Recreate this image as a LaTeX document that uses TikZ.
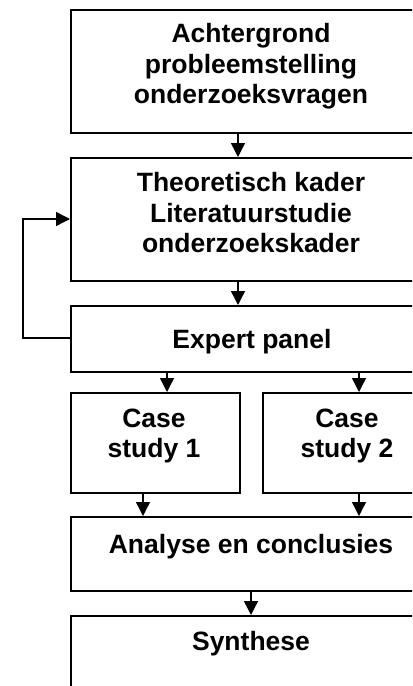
\documentclass[tikz,border=0pt]{standalone}
\usepackage{fontspec}
\setmainfont{Liberation Sans}
\usetikzlibrary{arrows.meta}
\tikzset{
  box/.style={draw=black, line width=2.3bp, rectangle, inner sep=0pt, anchor=north west},
  lbl/.style={font=\fontsize{26.5bp}{30.5bp}\selectfont\bfseries, align=center, inner sep=0pt},
  arr/.style={draw=black, line width=1.4bp, -{Triangle[width=14bp,length=14bp]}},
}
\begin{document}
\begin{tikzpicture}[x=1bp,y=-1bp]
\useasboundingbox (0,0) rectangle (412,686);
\clip (0,0) rectangle (412,686);
% boxes
\node[box, minimum width=362bp, minimum height=123bp] (b1) at (70,9) {};
\node[box, minimum width=362bp, minimum height=123bp] (b2) at (70,157) {};
\node[box, minimum width=362bp, minimum height=66bp] (b3) at (70,305) {};
\node[box, minimum width=169bp, minimum height=100bp] (c1) at (70,392) {};
\node[box, minimum width=170bp, minimum height=100bp] (c2) at (262,392) {};
\node[box, minimum width=362bp, minimum height=74bp] (b4) at (70,516) {};
\node[box, minimum width=362bp, minimum height=100bp] (b5) at (70,615) {};
% texts
\node[lbl] (t1) at (251,66.5) {Achtergrond\\probleemstelling\\onderzoeksvragen};
\node[lbl] (t2) at (251,213) {Theoretisch kader\\Literatuurstudie\\onderzoekskader};
\node[lbl, anchor=base] (t3) at (252,348) {Expert panel};
\node[lbl] (t4) at (154,436) {Case\\study 1};
\node[lbl] (t5) at (347,436) {Case\\study 2};
\node[lbl, anchor=base] (t6) at (251,553) {Analyse en conclusies};
\node[lbl, anchor=base] (t7) at (251,650) {Synthese};
% connectors
\coordinate (f1) at (23,338);
\coordinate (f2) at (23,219);
\draw[arr] (b1.south west -| 238,0) -- (b2.north west -| 238,0);
\draw[arr] (b2.south west -| 238,0) -- (b3.north west -| 238,0);
\draw[arr] (b3.south west -| 167,0) -- (c1.north west -| 167,0);
\draw[arr] (b3.south west -| 359,0) -- (c2.north west -| 359,0);
\draw[arr] (c1.south west -| 143,0) -- (b4.north west -| 143,0);
\draw[arr] (c2.south west -| 359,0) -- (b4.north west -| 359,0);
\draw[arr] (b4.south west -| 251,0) -- (b5.north west -| 251,0);
\draw[arr] (b3.west |- f1) -- (f1) -- (f2) -- (b2.west |- f2);
\end{tikzpicture}
\end{document}
